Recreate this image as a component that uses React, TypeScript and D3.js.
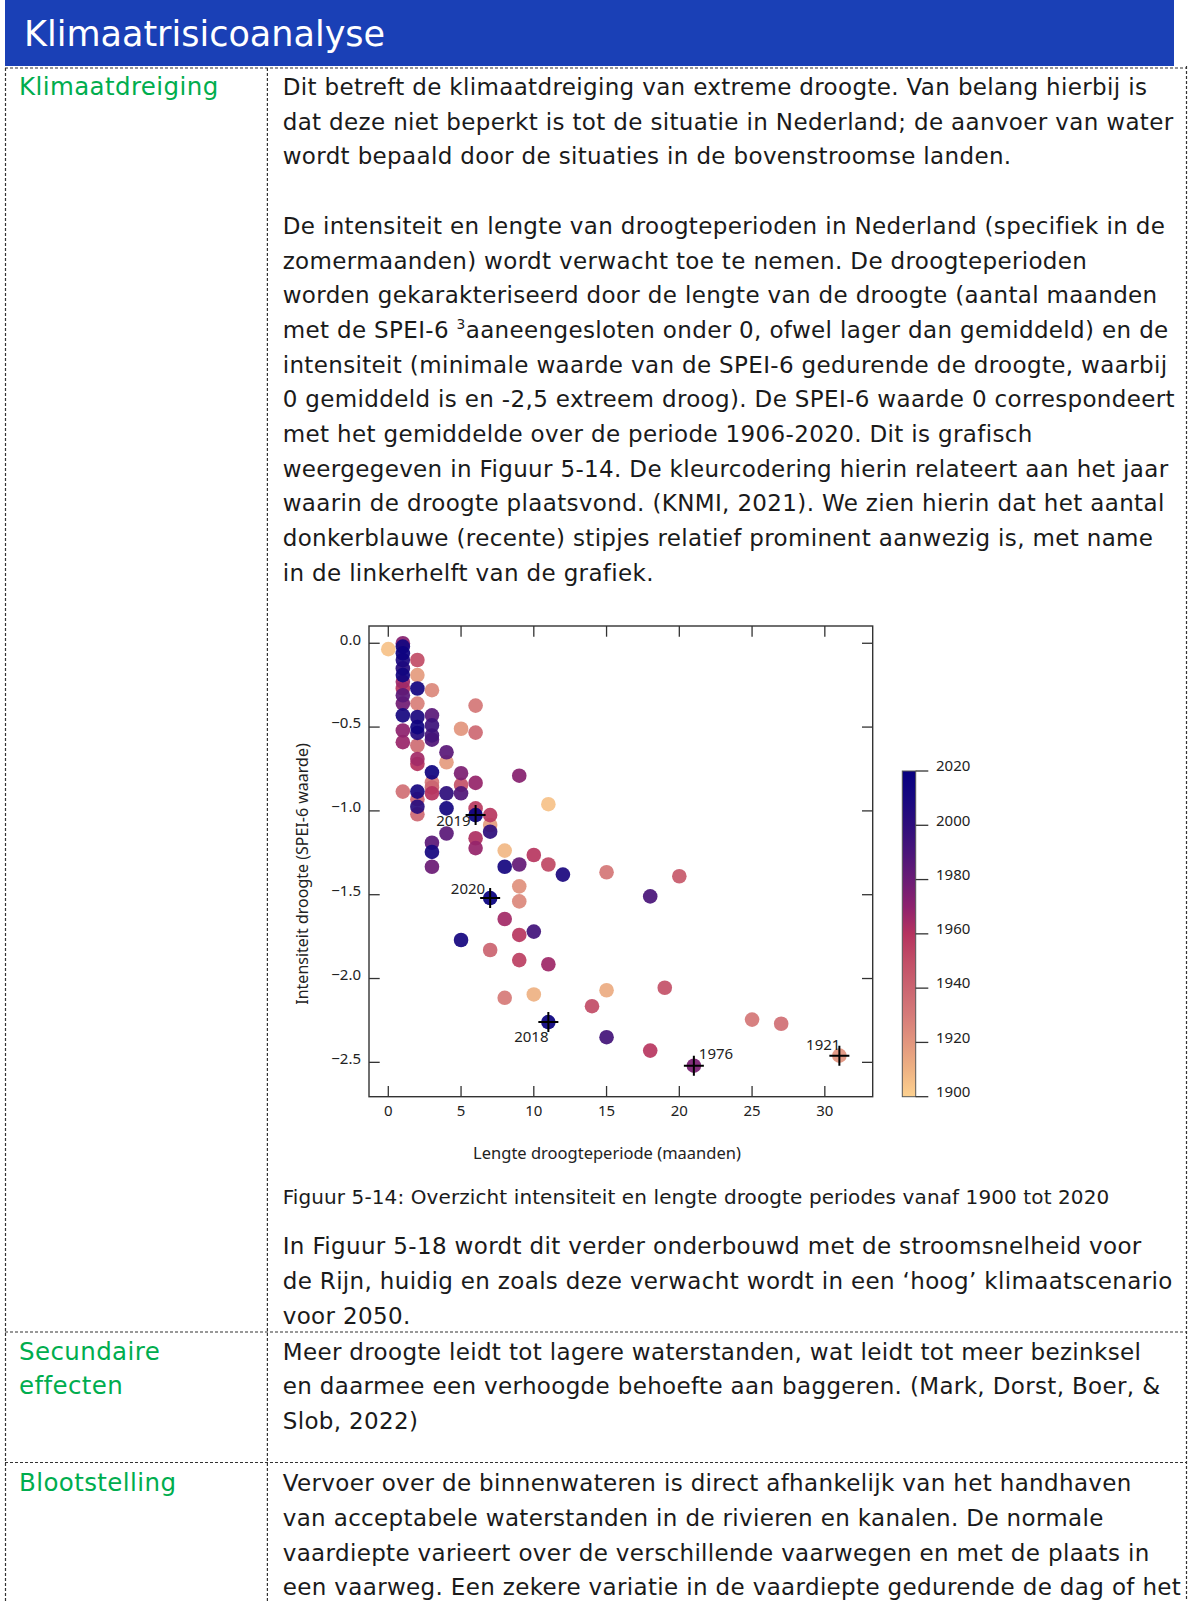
import React from 'react';
import * as d3 from 'd3';

const droughtMonths = [
  0,
  1, 1, 1, 1, 1, 1, 1, 1, 1, 1, 1, 1, 1, 1,
  2, 2, 2, 2, 2, 2, 2, 2, 2, 2, 2, 2, 2, 2,
  3, 3, 3, 3, 3, 3, 3, 3, 3, 3, 3, 3,
  4, 4, 4, 4, 4,
  5, 5, 5, 5, 5,
  6, 6, 6, 6, 6, 6, 6,
  7, 7, 7, 7, 7,
  8, 8, 8, 8,
  9, 9, 9, 9, 9, 9,
  10, 10, 10,
  11, 11, 11, 11,
  12, 14, 15, 15, 15, 18, 18, 19, 20, 21, 25, 27, 31,
];
const droughtIntensity = [
  -0.035,
  0.0, -0.02, -0.06, -0.1, -0.15, -0.19, -0.23, -0.27, -0.31, -0.36, -0.43, -0.52, -0.59, -0.885,
  -0.1, -0.19, -0.27, -0.36, -0.44, -0.5, -0.535, -0.61, -0.69, -0.72, -0.885, -0.93, -0.975, -1.02,
  -0.28, -0.43, -0.49, -0.55, -0.575, -0.77, -0.83, -0.86, -0.895, -1.19, -1.245, -1.333,
  -0.65, -0.71, -0.895, -0.985, -1.135,
  -0.51, -0.775, -0.845, -0.895, -1.77,
  -0.372, -0.533, -0.833, -0.985, -1.025, -1.163, -1.222,
  -1.025, -1.084, -1.124, -1.52, -1.83,
  -1.237, -1.333, -1.645, -2.115,
  -0.79, -1.32, -1.45, -1.54, -1.74, -1.89,
  -1.263, -1.72, -2.095,
  -0.96, -1.32, -1.915, -2.26,
  -1.38, -2.165, -1.366, -2.07, -2.35, -1.51, -2.43, -2.055, -1.39, -2.52, -2.245, -2.27, -2.46,
];
const droughtYears = [
  1905,
  1972, 2012, 2017, 2008, 2003, 2014, 1966, 1960, 1985, 1978, 2010, 1970, 1967, 1935,
  1950, 1918, 2012, 1928, 2008, 2015, 2005, 1936, 1965, 1960, 2010, 1940, 2002, 1938,
  1925, 1985, 1995, 1992, 1988, 2015, 1932, 1940, 1960, 1985, 2010, 1980,
  1985, 1918, 2000, 2012, 1985,
  1920, 1975, 1948, 1988, 2010,
  1932, 1938, 1968, 1957, 2019, 1962, 1968,
  1958, 1918, 2000, 2020, 1940,
  1908, 2010, 1965, 1930,
  1972, 1982, 1922, 1925, 1958, 1955,
  1958, 1993, 1910,
  1905, 1952, 1966, 2018,
  2008, 1950, 1932, 1912, 1992, 1990, 1958, 1948, 1945, 1976, 1932, 1935, 1921,
];

const labelledYears = [2019, 2020, 2018, 1976, 1921];

const xTicks = [0, 5, 10, 15, 20, 25, 30];
const yTicks = [0, -0.5, -1, -1.5, -2, -2.5];
const colorTicks = [1900, 1920, 1940, 1960, 1980, 2000, 2020];
const colorStopYears = [1900, 1910, 1920, 1930, 1940, 1950, 1960, 1970, 1980, 1990, 2000, 2010, 2020];
const colorStopValues = [
  '#fdd18f', '#eeb283', '#e2967e', '#d67b79', '#cb6571', '#c24e67', '#b5335f',
  '#8e226e', '#6a1c75', '#4a157a', '#2e0e7c', '#170880', '#080080',
];

// document text
const klimaatLines = [
  'Dit betreft de klimaatdreiging van extreme droogte. Van belang hierbij is',
  'dat deze niet beperkt is tot de situatie in Nederland; de aanvoer van water',
  'wordt bepaald door de situaties in de bovenstroomse landen.',
  '',
  'De intensiteit en lengte van droogteperioden in Nederland (specifiek in de',
  'zomermaanden) wordt verwacht toe te nemen. De droogteperioden',
  'worden gekarakteriseerd door de lengte van de droogte (aantal maanden',
  'met de SPEI-6 ³aaneengesloten onder 0, ofwel lager dan gemiddeld) en de',
  'intensiteit (minimale waarde van de SPEI-6 gedurende de droogte, waarbij',
  '0 gemiddeld is en -2,5 extreem droog). De SPEI-6 waarde 0 correspondeert',
  'met het gemiddelde over de periode 1906-2020. Dit is grafisch',
  'weergegeven in Figuur 5-14. De kleurcodering hierin relateert aan het jaar',
  'waarin de droogte plaatsvond. (KNMI, 2021). We zien hierin dat het aantal',
  'donkerblauwe (recente) stipjes relatief prominent aanwezig is, met name',
  'in de linkerhelft van de grafiek.',
];
const captionText = 'Figuur 5-14: Overzicht intensiteit en lengte droogte periodes vanaf 1900 tot 2020';
const afterLines = [
  'In Figuur 5-18 wordt dit verder onderbouwd met de stroomsnelheid voor',
  'de Rijn, huidig en zoals deze verwacht wordt in een ‘hoog’ klimaatscenario',
  'voor 2050.',
];
const secundairLines = [
  'Meer droogte leidt tot lagere waterstanden, wat leidt tot meer bezinksel',
  'en daarmee een verhoogde behoefte aan baggeren. (Mark, Dorst, Boer, &',
  'Slob, 2022)',
];
const blootLines = [
  'Vervoer over de binnenwateren is direct afhankelijk van het handhaven',
  'van acceptabele waterstanden in de rivieren en kanalen. De normale',
  'vaardiepte varieert over de verschillende vaarwegen en met de plaats in',
  'een vaarweg. Een zekere variatie in de vaardiepte gedurende de dag of het',
];

const labelPos = {
  2019: { dx: -5, dy: 11, anchor: 'end' },
  2020: { dx: -5, dy: -4, anchor: 'end' },
  2018: { dx: -17, dy: 20, anchor: 'middle' },
  1976: { dx: 5, dy: -7, anchor: 'start' },
  1921: { dx: 1, dy: -6, anchor: 'end' },
};

const docFont = '"DejaVu Sans", sans-serif';
const chartFont = '"Noto Sans", sans-serif';
const green = '#00ad4e';
const ink = '#1a1a1a';
const bodySize = 23;
const bodySpacing = 0.35;

function Lines({ lines, x, y, lh, size, fill, spacing = bodySpacing }) {
  return (
    <g fontFamily={docFont} fontSize={size} fill={fill} letterSpacing={spacing}>
      {lines.map((l, i) => {
        if (l.includes('³')) {
          const [a, b] = l.split('³');
          return (
            <text key={i} x={x} y={y + i * lh}>
              {a}
              <tspan fontSize={size * 0.6} dy={-9}>3</tspan>
              <tspan dy={9}>{b}</tspan>
            </text>
          );
        }
        return <text key={i} x={x} y={y + i * lh}>{l}</text>;
      })}
    </g>
  );
}

function Chart() {
  const x = d3.scaleLinear().domain([-1.326, 33.29]).range([369, 872.7]);
  const y = d3.scaleLinear().domain([0.103, -2.705]).range([626, 1096.7]);
  const color = d3.scaleLinear<string>().domain(colorStopYears).range(colorStopValues).interpolate(d3.interpolateRgb);
  const cb = d3.scaleLinear().domain([1900, 2020]).range([1096.7, 771]);
  const fmt = d3.format('.1f');

  const pts = droughtMonths
    .map((m, i) => ({ m, v: droughtIntensity[i], yr: droughtYears[i] }))
    .sort((a, b) => a.yr - b.yr);
  const marked = pts.filter((p) => labelledYears.includes(p.yr));

  const [x0, x1] = x.range();
  const [y0, y1] = y.range();
  const tick = 10.7;

  return (
    <g fontFamily={chartFont} fill="#222">
      <defs>
        <linearGradient id="cbar" x1="0" y1="1" x2="0" y2="0">
          {colorStopYears.map((yr, i) => (
            <stop key={yr} offset={(yr - 1900) / 120} stopColor={colorStopValues[i]} />
          ))}
        </linearGradient>
      </defs>

      {pts.map((p, i) => (
        <circle key={i} cx={x(p.m)} cy={y(p.v)} r={7.3} fill={color(p.yr)} fillOpacity={0.93} />
      ))}

      {marked.map((p) => {
        const cx = x(p.m);
        const cy = y(p.v);
        const lp = labelPos[p.yr];
        return (
          <g key={p.yr}>
            <path d={`M${cx - 10},${cy}H${cx + 10}M${cx},${cy - 10}V${cy + 10}`} stroke="#000" strokeWidth={2} />
            <text x={cx + lp.dx} y={cy + lp.dy} textAnchor={lp.anchor} fontSize={15}>{p.yr}</text>
          </g>
        );
      })}

      <rect x={x0} y={y0} width={x1 - x0} height={y1 - y0} fill="none" stroke="#333" strokeWidth={1.4} />
      {xTicks.map((t) => (
        <g key={t} stroke="#333" strokeWidth={1.3}>
          <line x1={x(t)} x2={x(t)} y1={y1} y2={y1 - tick} />
          <line x1={x(t)} x2={x(t)} y1={y0} y2={y0 + tick} />
        </g>
      ))}
      {yTicks.map((t) => (
        <g key={t} stroke="#333" strokeWidth={1.3}>
          <line x1={x0} x2={x0 + tick} y1={y(t)} y2={y(t)} />
          <line x1={x1} x2={x1 - tick} y1={y(t)} y2={y(t)} />
        </g>
      ))}
      {xTicks.map((t) => (
        <text key={t} x={x(t)} y={1116} textAnchor="middle" fontSize={15}>{t}</text>
      ))}
      {yTicks.map((t) => (
        <text key={t} x={361} y={y(t) - 4} dy="0.35em" textAnchor="end" fontSize={15}>{fmt(t)}</text>
      ))}
      <text x={607} y={1159} textAnchor="middle" fontSize={16.5}>Lengte droogteperiode (maanden)</text>
      <text transform="translate(302,874) rotate(-90)" textAnchor="middle" dy="0.35em" fontSize={16}>
        Intensiteit droogte (SPEI-6 waarde)
      </text>

      <rect x={902.3} y={cb(2020)} width={13.4} height={cb(1900) - cb(2020)} fill="url(#cbar)" stroke="#555" strokeWidth={1} />
      {colorTicks.map((t) => (
        <g key={t}>
          <line x1={915.7} x2={928.3} y1={cb(t)} y2={cb(t)} stroke="#333" strokeWidth={1.3} />
          <text x={936} y={cb(t) - 5} dy="0.35em" fontSize={15}>{t}</text>
        </g>
      ))}
    </g>
  );
}

export default function App() {
  const lh = 34.7;
  const dash = { stroke: '#333', strokeWidth: 1.2, strokeDasharray: '3,2' };
  return (
    <div style={{ position: 'absolute', left: 0, top: 0 }}>
      <svg width={1188} height={1601} style={{ display: 'block', background: '#fff' }}>
        <rect x={5} y={0} width={1169} height={66} fill="#1a40b6" />
        <text x={24} y={46} fontFamily={docFont} fontSize={35} fill="#fff">Klimaatrisicoanalyse</text>

        <line x1={5} x2={1187} y1={68} y2={68} {...dash} />
        <line x1={5} x2={1187} y1={1332} y2={1332} {...dash} />
        <line x1={5} x2={1187} y1={1462.5} y2={1462.5} {...dash} />
        <line x1={5.5} x2={5.5} y1={68} y2={1601} {...dash} />
        <line x1={267.4} x2={267.4} y1={68} y2={1601} {...dash} />
        <line x1={1186.5} x2={1186.5} y1={66} y2={1601} {...dash} />

        <Lines lines={['Klimaatdreiging']} x={19} y={95} lh={lh} size={24.5} fill={green} spacing={0.4} />
        <Lines lines={['Secundaire', 'effecten']} x={19} y={1359.6} lh={lh} size={24.5} fill={green} spacing={0.4} />
        <Lines lines={['Blootstelling']} x={19} y={1491.3} lh={lh} size={24.5} fill={green} spacing={0.4} />

        <Lines lines={klimaatLines} x={282.7} y={95} lh={lh} size={bodySize} fill={ink} />
        <Chart />
        <Lines lines={[captionText]} x={282.7} y={1203.5} lh={lh} size={20} fill={ink} spacing={0.1} />
        <Lines lines={afterLines} x={282.7} y={1254.4} lh={lh} size={bodySize} fill={ink} />
        <Lines lines={secundairLines} x={282.7} y={1359.6} lh={lh} size={bodySize} fill={ink} />
        <Lines lines={blootLines} x={282.7} y={1491.3} lh={lh} size={bodySize} fill={ink} />
      </svg>
    </div>
  );
}
